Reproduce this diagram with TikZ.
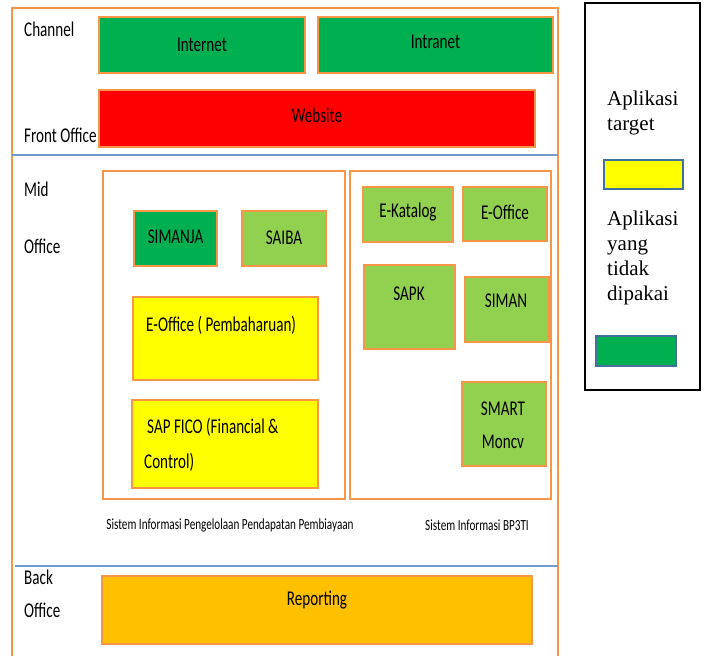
\documentclass[tikz,border=0pt]{standalone}
\usepackage{fontspec}
\setmainfont{Carlito}[FakeStretch=0.72]
\newfontfamily\legendfont{Liberation Serif}
\usepackage{tikz}
\usetikzlibrary{positioning}

\definecolor{frameorange}{HTML}{F79646}
\definecolor{darkgreen}{HTML}{00B050}
\definecolor{lightgreen}{HTML}{92D050}
\definecolor{appyellow}{HTML}{FFFF00}
\definecolor{reportorange}{HTML}{FFC000}
\definecolor{linkblue}{HTML}{4F81BD}
\definecolor{legendblue}{HTML}{41719C}

\tikzset{
  appbox/.style={draw=frameorange, line width=2.5pt, inner sep=0pt},
  groupbox/.style={draw=frameorange, line width=2pt, inner sep=0pt},
  apptext/.style={font=\fontsize{21}{33}\selectfont, inner sep=0pt},
  laneText/.style={font=\fontsize{21}{22}\selectfont, anchor=west, inner sep=0pt},
  captionText/.style={font=\fontsize{15.5}{16}\selectfont, inner sep=0pt},
  legendText/.style={font=\legendfont\fontsize{21}{25}\selectfont, align=left, anchor=north west, inner sep=0pt}
}

\begin{document}
\begin{tikzpicture}[x=1pt, y=-1pt]
    \useasboundingbox (0,0) rectangle (706,656);

    % outer frame and lane separators
    \draw[frameorange, line width=2pt] (12,656) -- (12,8) -- (558,8) -- (558,656);
    \draw[linkblue!80, line width=1.2pt] (12,155) -- (558,155);
    \draw[linkblue!80, line width=1.2pt] (15,566) -- (558,566);

    % lane labels
    \node[laneText] (channel) at (24,29)  {Channel};
    \node[laneText] (front)   at (24,135) {Front Office};
    \node[laneText] (mid)     at (24,189) {Mid};
    \node[laneText] (midoff)  at (24,246) {Office};
    \node[laneText] (back)    at (24,577) {Back};
    \node[laneText] (backoff) at (24,610) {Office};

    % channel and front office
    \node[appbox, fill=darkgreen, minimum width=206pt, minimum height=56pt] (internet) at (202,45) {};
    \node[apptext] at (internet) {Internet};
    \node[appbox, fill=darkgreen, minimum width=235pt, minimum height=56pt] (intranet) at (435.5,45) {};
    \node[apptext] at (435.5,42) {Intranet};
    \node[appbox, fill=red, minimum width=436pt, minimum height=57pt] (website) at (317,118.5) {};
    \node[apptext] at (317,115) {Website};

    % mid office groups
    \node[groupbox, minimum width=242pt, minimum height=328pt] (sipp) at (224,335) {};
    \node[groupbox, minimum width=201pt, minimum height=328pt] (bp3ti) at (450.5,335) {};
    \node[captionText] (sippcap)  at (230,525) {Sistem Informasi Pengelolaan Pendapatan Pembiayaan};
    \node[captionText] (bp3ticap) at (477,525) {Sistem Informasi BP3TI};

    % left group
    \node[appbox, fill=darkgreen, minimum width=83pt, minimum height=55pt] (simanja) at (175.5,238.5) {};
    \node[apptext] at (175.5,237) {SIMANJA};
    \node[appbox, fill=lightgreen, minimum width=84pt, minimum height=55pt] (saiba) at (284,238.5) {};
    \node[apptext] at (284,238) {SAIBA};
    \node[appbox, fill=appyellow, minimum width=185pt, minimum height=83pt] (eoffp) at (225.5,338.5) {};
    \node[apptext, anchor=west] at (146,325) {E-Office ( Pembaharuan)};
    \node[appbox, fill=appyellow, minimum width=186pt, minimum height=88pt] (sapfico) at (225,444) {};
    \node[apptext, anchor=west] at (147,427) {SAP FICO (Financial \&};
    \node[apptext, anchor=west] at (144,462) {Control)};

    % right group
    \node[appbox, fill=lightgreen, minimum width=90pt, minimum height=55pt] (ekatalog) at (408,214.5) {};
    \node[apptext] at (408,212) {E-Katalog};
    \node[appbox, fill=lightgreen, minimum width=84pt, minimum height=54pt] (eoffice) at (505,214) {};
    \node[apptext] at (505,212) {E-Office};
    \node[appbox, fill=lightgreen, minimum width=91pt, minimum height=84pt] (sapk) at (409.5,307) {};
    \node[apptext] at (409,294) {SAPK};
    \node[appbox, fill=lightgreen, minimum width=84pt, minimum height=65pt] (siman) at (507,309.5) {};
    \node[apptext] at (506,301) {SIMAN};
    \node[appbox, fill=lightgreen, minimum width=84pt, minimum height=84pt] (smart) at (504,424) {};
    \node[apptext, align=center] at (503,425.5) {SMART\\Moncv};

    % back office
    \node[appbox, fill=reportorange, minimum width=430pt, minimum height=68pt] (reporting) at (317,610) {};
    \node[apptext] at (317,600) {Reporting};

    % legend
    \node[draw, line width=2.5pt, minimum width=115pt, minimum height=387pt, inner sep=0pt] (legend) at (642.5,196.5) {};
    \node[legendText] (tgt) at (607,91) {Aplikasi\\target};
    \node[draw=legendblue, line width=1.5pt, fill=appyellow, minimum width=79pt, minimum height=29pt, inner sep=0pt] (tgtkey) at (643.5,174.5) {};
    \node[legendText] (unused) at (607,211) {Aplikasi\\yang\\tidak\\dipakai};
    \node[draw=legendblue, line width=1.5pt, fill=darkgreen, minimum width=80pt, minimum height=30pt, inner sep=0pt] (unusedkey) at (636,351) {};
\end{tikzpicture}
\end{document}
